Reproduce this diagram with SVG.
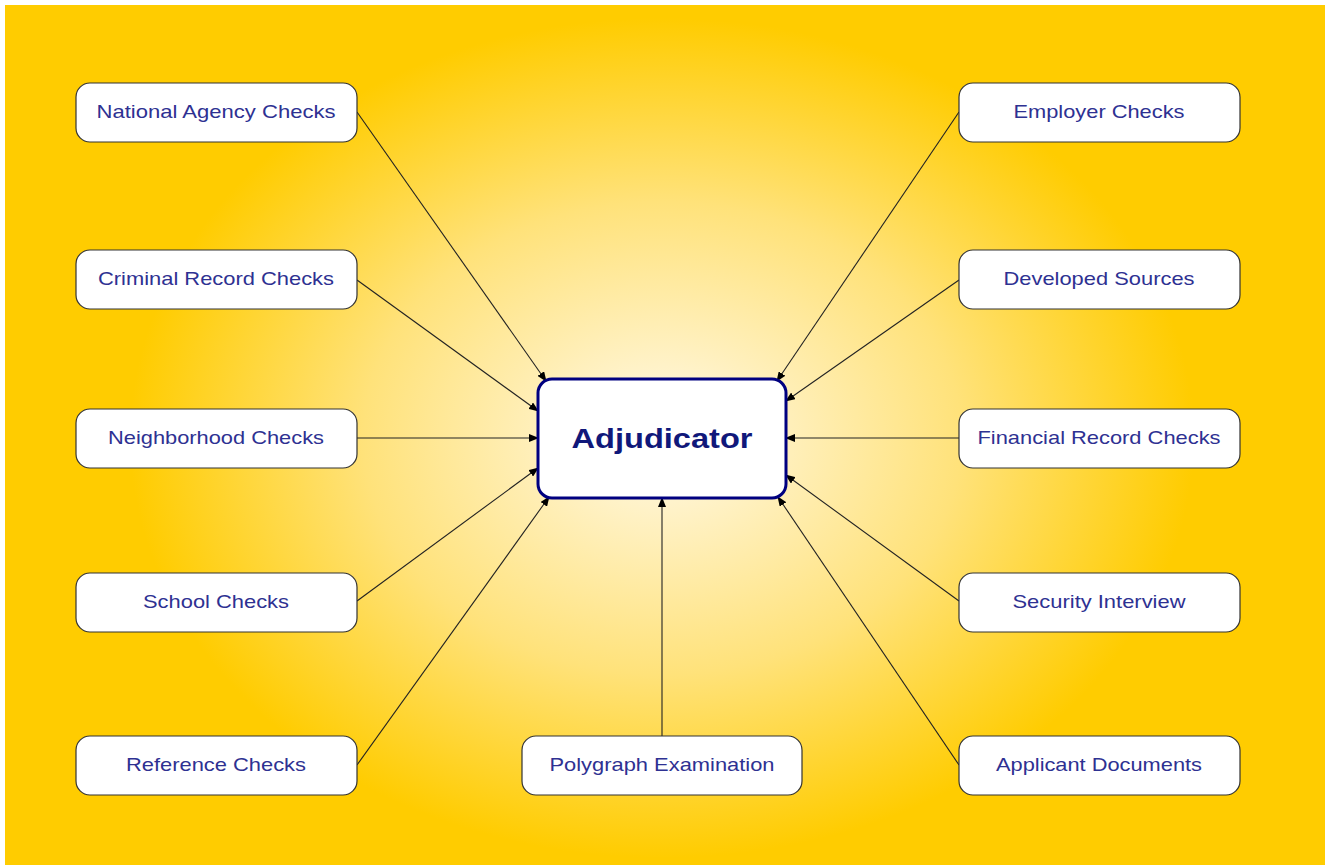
<svg xmlns="http://www.w3.org/2000/svg" width="1325" height="865" viewBox="0 0 1325 865">
<style>
.node rect{fill:#fff;stroke:#333;stroke-width:1.2}
.node text{font-family:"Liberation Sans",Arial,sans-serif;font-size:19px;fill:#2E3192;text-anchor:middle}
.conn line{stroke:#222;stroke-width:1.1;marker-end:url(#ah)}
</style>
<defs>
<radialGradient id="bg" cx="662" cy="438" r="700" gradientUnits="userSpaceOnUse" gradientTransform="translate(662 438) scale(0.95 0.75) translate(-662 -438)">
<stop offset="0" stop-color="#FFFFFF"/>
<stop offset="0.12" stop-color="#FFF3CC"/>
<stop offset="0.45" stop-color="#FFE27A"/>
<stop offset="0.8" stop-color="#FFCC00"/>
<stop offset="1" stop-color="#FFCC00"/>
</radialGradient>
<marker id="ah" markerWidth="10" markerHeight="8" refX="9" refY="4" orient="auto" markerUnits="userSpaceOnUse">
<path d="M0,0 L10,4 L0,8 Z" fill="#000"/>
</marker>
</defs>
<rect x="0" y="0" width="1325" height="865" fill="#fff"/>
<rect x="5" y="5" width="1320" height="860" fill="url(#bg)"/>
<g class="conn">
<line x1="357" y1="112" x2="546" y2="381"/>
<line x1="357" y1="280" x2="538" y2="411"/>
<line x1="357" y1="438" x2="538" y2="438"/>
<line x1="357" y1="601" x2="538" y2="468"/>
<line x1="357" y1="765" x2="549" y2="497"/>
<line x1="959" y1="112" x2="777" y2="381"/>
<line x1="959" y1="280" x2="786" y2="401"/>
<line x1="959" y1="438" x2="786" y2="438"/>
<line x1="959" y1="601" x2="786" y2="475"/>
<line x1="959" y1="765" x2="778" y2="497"/>
<line x1="662" y1="736" x2="662" y2="498"/>
</g>
<g id="adjudicator">
<rect x="538" y="379" width="248" height="119" rx="14" fill="#fff" stroke="#000080" stroke-width="3"/>
<text x="662" y="448" font-family="Liberation Sans,Arial,sans-serif" font-size="28" font-weight="bold" fill="#10187A" text-anchor="middle" textLength="181" lengthAdjust="spacingAndGlyphs">Adjudicator</text>
</g>
<g id="n1" class="node"><rect x="76" y="83" width="281" height="59" rx="14"/><text x="216" y="118" textLength="239" lengthAdjust="spacingAndGlyphs">National Agency Checks</text></g>
<g id="n2" class="node"><rect x="76" y="250" width="281" height="59" rx="14"/><text x="216" y="285" textLength="236" lengthAdjust="spacingAndGlyphs">Criminal Record Checks</text></g>
<g id="n3" class="node"><rect x="76" y="409" width="281" height="59" rx="14"/><text x="216" y="444" textLength="216" lengthAdjust="spacingAndGlyphs">Neighborhood Checks</text></g>
<g id="n4" class="node"><rect x="76" y="573" width="281" height="59" rx="14"/><text x="216" y="608" textLength="146" lengthAdjust="spacingAndGlyphs">School Checks</text></g>
<g id="n5" class="node"><rect x="76" y="736" width="281" height="59" rx="14"/><text x="216" y="771" textLength="180" lengthAdjust="spacingAndGlyphs">Reference Checks</text></g>
<g id="n6" class="node"><rect x="522" y="736" width="280" height="59" rx="14"/><text x="662" y="771" textLength="225" lengthAdjust="spacingAndGlyphs">Polygraph Examination</text></g>
<g id="n7" class="node"><rect x="959" y="83" width="281" height="59" rx="14"/><text x="1099" y="118" textLength="171" lengthAdjust="spacingAndGlyphs">Employer Checks</text></g>
<g id="n8" class="node"><rect x="959" y="250" width="281" height="59" rx="14"/><text x="1099" y="285" textLength="191" lengthAdjust="spacingAndGlyphs">Developed Sources</text></g>
<g id="n9" class="node"><rect x="959" y="409" width="281" height="59" rx="14"/><text x="1099" y="444" textLength="243" lengthAdjust="spacingAndGlyphs">Financial Record Checks</text></g>
<g id="n10" class="node"><rect x="959" y="573" width="281" height="59" rx="14"/><text x="1099" y="608" textLength="173" lengthAdjust="spacingAndGlyphs">Security Interview</text></g>
<g id="n11" class="node"><rect x="959" y="736" width="281" height="59" rx="14"/><text x="1099" y="771" textLength="206" lengthAdjust="spacingAndGlyphs">Applicant Documents</text></g>
</svg>
